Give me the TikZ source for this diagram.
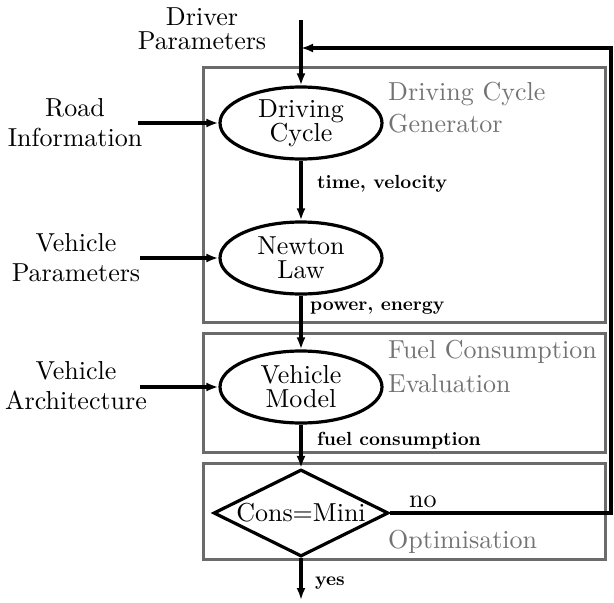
\documentclass[tikz,border=0pt]{standalone}
\usepackage{fontspec}
\setmainfont{lmroman10-regular.otf}[BoldFont=lmroman10-bold.otf]
\usetikzlibrary{shapes.geometric,arrows.meta}
\definecolor{boxgray}{gray}{0.42}
\definecolor{txtgray}{gray}{0.45}
\tikzset{
  big/.style={font=\fontsize{26}{30}\selectfont},
  lab/.style={font=\fontsize{19}{22}\selectfont\bfseries, inner sep=0pt},
  proc/.style={ellipse, draw, line width=3.2pt, minimum width=162pt, minimum height=72pt, inner sep=0pt, align=center, big},
  dec/.style={diamond, draw, line width=3.2pt, shape aspect=2.02, minimum width=175pt, minimum height=87pt, inner sep=0pt, big},
  frame/.style={draw=boxgray, line width=3pt},
  gtext/.style={big, text=txtgray, align=left, inner sep=0pt},
  intext/.style={big, align=center, inner sep=0pt},
  flow/.style={line width=3.2pt, -{Latex[length=12pt,width=9pt]}},
}
\begin{document}
\begin{tikzpicture}[x=1pt,y=-1pt]
\useasboundingbox (0,0) rectangle (614,603);
% frames
\draw[frame] (203,67) rectangle (605,322);
\draw[frame] (203,333) rectangle (605,452);
\draw[frame] (203,463) rectangle (605,559);
% process nodes
\node[proc] (dc) at (301,123) {Driving\\[-6pt]Cycle};
\node[proc] (nl) at (301,258) {Newton\\[-6pt]Law};
\node[proc] (vm) at (301,387) {Vehicle\\[-6pt]Model};
\node[dec] (cm) at (301,513) {Cons=Mini};
% input texts
\node[intext] (dp) at (202,29) {Driver\\[-6pt]Parameters};
\node[intext] (ri) at (75,123) {Road\\Information};
\node[intext] (vp) at (76,258) {Vehicle\\Parameters};
\node[intext] (va) at (76,386) {Vehicle\\Architecture};
% gray titles
\node[gtext, anchor=base west] (g1) at (388,100) {Driving Cycle};
\node[gtext, anchor=base west] (g1b) at (388,132) {Generator};
\node[gtext, anchor=base west] (g2) at (388,358) {Fuel Consumption};
\node[gtext, anchor=base west] (g2b) at (388,392) {Evaluation};
\node[gtext, anchor=base west] (g3) at (388,548) {Optimisation};
% coordinates
\coordinate (top) at (301,20);
\coordinate (fb) at (301,48);
\coordinate (fr) at (611,48);
\coordinate (nr) at (611,513);
\coordinate (bot) at (301,600);
\coordinate (riE) at (138,123);
\coordinate (vpE) at (140,258);
\coordinate (vaE) at (140,387);
% connectors
\draw[flow] (top) -- (dc.north);
\draw[flow] (riE) -- (dc.west);
\draw[flow] (dc.south) -- (nl.north);
\draw[flow] (vpE) -- (nl.west);
\draw[flow] (nl.south) -- (vm.north);
\draw[flow] (vaE) -- (vm.west);
\draw[flow] (vm.south) -- (cm.north);
\draw[flow] (cm.south) -- (bot);
\draw[flow] (cm.east) -- (nr) -- (fr) -- (fb);
% labels
\node[lab, anchor=base west] (l1) at (317,188) {time, velocity};
\node[lab, anchor=base west] (l2) at (310,310) {power, energy};
\node[lab, anchor=base west] (l3) at (317,445) {fuel consumption};
\node[big, inner sep=0pt, anchor=base west] (no) at (409,507) {no};
\node[lab, anchor=base west] (yes) at (315,585) {yes};
\end{tikzpicture}
\end{document}
